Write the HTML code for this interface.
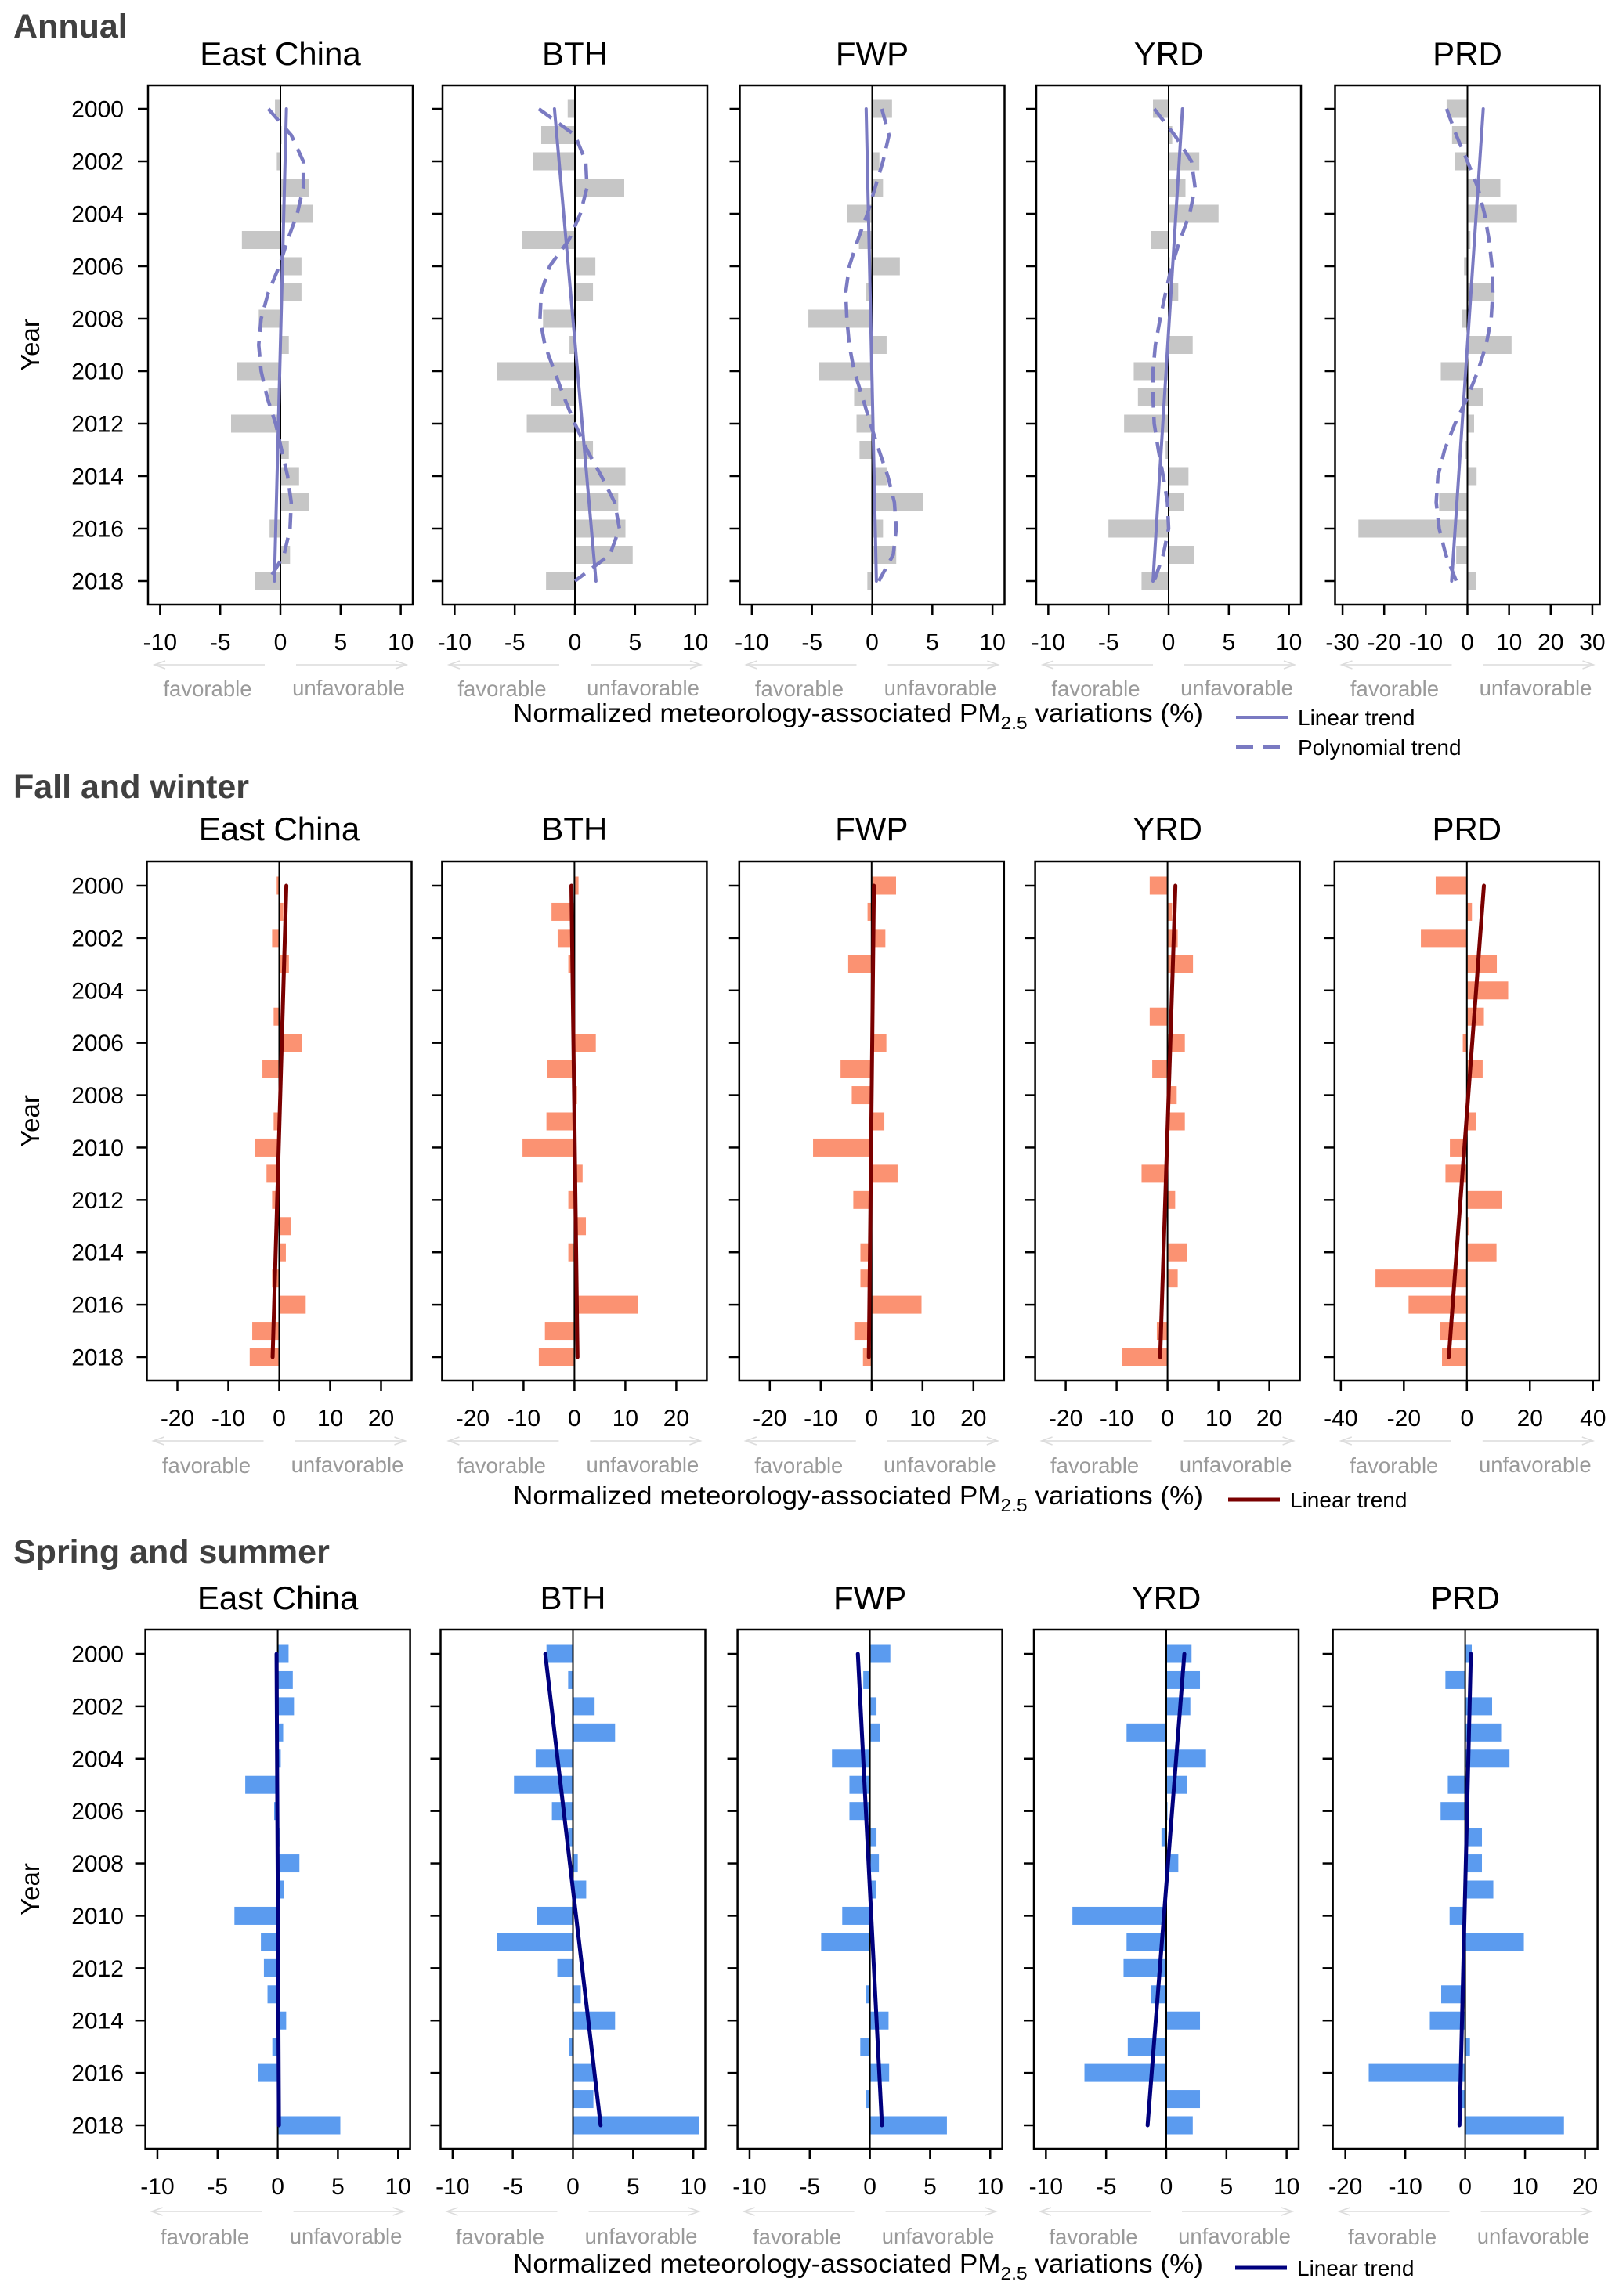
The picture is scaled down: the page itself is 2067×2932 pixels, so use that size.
<!DOCTYPE html>
<html><head><meta charset="utf-8"><style>
html,body{margin:0;padding:0;background:#fff;}
svg{display:block;font-family:"Liberation Sans",Arial,sans-serif;}
</style></head><body>
<svg id="fig" width="2067" height="2932" viewBox="0 0 2067 2932" xmlns="http://www.w3.org/2000/svg"></svg>
<script>
// ---------- data ----------
const years = [2000,2001,2002,2003,2004,2005,2006,2007,2008,2009,2010,2011,2012,2013,2014,2015,2016,2017,2018];
const yearTickLabels = ["2000","2002","2004","2006","2008","2010","2012","2014","2016","2018"];
const regions = ["East China","BTH","FWP","YRD","PRD"];
const rowTitles = ["Annual","Fall and winter","Spring and summer"];

// Annual
const annualEC  = [-0.45,0.1,-0.3,2.4,2.7,-3.2,1.75,1.75,-1.8,0.7,-3.6,-1.0,-4.1,0.7,1.55,2.4,-0.9,0.8,-2.1];
const annualBTH = [-0.6,-2.8,-3.5,4.1,0.1,-4.4,1.7,1.5,-2.65,-0.45,-6.5,-2.0,-4.0,1.5,4.2,3.6,4.2,4.8,-2.4];
const annualFWP = [1.65,0.05,0.6,0.9,-2.1,-1.1,2.3,-0.55,-5.3,1.2,-4.4,-1.5,-1.3,-1.05,1.2,4.2,0.9,2.0,-0.4];
const annualYRD = [-1.3,0.3,2.55,1.4,4.15,-1.45,0.1,0.8,0.05,2.0,-2.9,-2.55,-3.7,-0.25,1.65,1.3,-5.0,2.1,-2.25];
const annualPRD = [-5.0,-3.7,-3.0,7.9,11.9,0.7,-0.8,6.5,-1.4,10.6,-6.4,3.8,1.6,-0.5,2.2,-6.8,-26.2,-2.7,2.0];
const annualLinEC  = [0.5,-0.5];
const annualLinBTH = [-1.7,1.75];
const annualLinFWP = [-0.5,0.35];
const annualLinYRD = [1.15,-1.3];
const annualLinPRD = [3.8,-3.8];
const annualPolyEC  = [-1.0,0.9,1.9,1.9,1.4,0.6,-0.1,-1.0,-1.6,-1.8,-1.6,-1.1,-0.4,0.1,0.6,0.9,0.8,0.3,-1.0];
const annualPolyBTH = [-3.0,0.0,0.9,1.0,0.45,-0.5,-2.1,-2.8,-2.9,-2.5,-1.7,-0.9,0.0,1.0,2.2,3.3,3.7,2.9,0.0];
const annualPolyFWP = [0.8,1.4,0.9,0.25,-0.4,-1.2,-1.9,-2.2,-2.1,-1.9,-1.5,-0.8,-0.15,0.55,1.3,1.85,2.0,1.75,0.55];
const annualPolyYRD = [-1.2,0.5,1.9,2.2,1.75,0.95,0.25,-0.25,-0.7,-1.1,-1.3,-1.3,-1.2,-0.85,-0.45,-0.1,0.0,-0.45,-1.2];
const annualPolyPRD = [-5.0,-2.7,0.0,2.5,4.1,5.2,5.9,6.1,5.7,4.5,2.5,0.0,-3.0,-5.5,-7.1,-7.5,-6.8,-5.2,-2.7];

// Fall and winter
const fwEC  = [-0.5,0.8,-1.4,1.9,0.0,-1.1,4.4,-3.3,0.1,-1.1,-4.8,-2.5,-1.4,2.25,1.3,-1.4,5.2,-5.3,-5.8];
const fwBTH = [0.8,-4.5,-3.3,-1.2,0.0,0.0,4.2,-5.3,0.5,-5.5,-10.2,1.6,-1.2,2.25,-1.2,0.0,12.5,-5.8,-7.0];
const fwFWP = [4.8,-0.8,2.7,-4.6,0.0,0.0,2.9,-6.1,-3.9,2.5,-11.5,5.1,-3.6,0.0,-2.2,-2.2,9.8,-3.4,-1.7];
const fwYRD = [-3.5,0.9,2.0,5.0,0.0,-3.5,3.4,-3.0,1.8,3.4,0.0,-5.1,1.5,0.0,3.8,2.0,0.0,-2.1,-8.9];
const fwPRD = [-9.9,1.6,-14.6,9.5,13.1,5.4,-1.3,5.0,0.0,2.9,-5.4,-6.8,11.2,0.5,9.4,-29.0,-18.5,-8.5,-7.9];
const fwLinEC  = [1.4,-1.3];
const fwLinBTH = [-0.6,0.6];
const fwLinFWP = [0.45,-0.55];
const fwLinYRD = [1.55,-1.45];
const fwLinPRD = [5.4,-5.75];

// Spring and summer
const ssEC  = [0.9,1.25,1.35,0.45,0.25,-2.7,-0.3,0.15,1.8,0.5,-3.6,-1.4,-1.15,-0.85,0.7,-0.45,-1.6,0.0,5.2];
const ssBTH = [-2.2,-0.4,1.8,3.5,-3.1,-4.9,-1.75,-0.4,0.4,1.1,-3.0,-6.3,-1.3,0.65,3.5,-0.35,1.8,1.7,10.45];
const ssFWP = [1.7,-0.55,0.55,0.85,-3.15,-1.7,-1.7,0.55,0.75,0.5,-2.3,-4.05,0.0,-0.3,1.55,-0.8,1.6,-0.35,6.4];
const ssYRD = [2.1,2.8,2.0,-3.3,3.3,1.7,0.1,-0.4,1.0,0.0,-7.8,-3.3,-3.55,-1.3,2.8,-3.2,-6.8,2.8,2.2];
const ssPRD = [1.1,-3.3,4.5,6.0,7.4,-2.9,-4.1,2.8,2.8,4.7,-2.6,9.8,0.0,-4.0,-5.9,0.8,-16.1,-0.5,16.5];
const ssLinEC  = [-0.1,0.1];
const ssLinBTH = [-2.3,2.3];
const ssLinFWP = [-1.0,1.0];
const ssLinYRD = [1.5,-1.55];
const ssLinPRD = [0.95,-0.95];

// x-axis tick labels
const ticks10 = [-10,-5,0,5,10];
const ticks20 = [-20,-10,0,10,20];
const ticks30 = [-30,-20,-10,0,10,20,30];
const ticks40 = [-40,-20,0,20,40];

// ---------- layout ----------
const NS = "http://www.w3.org/2000/svg";
const svg = document.getElementById("fig");
function mk(tag, attrs, parent){
  const e = document.createElementNS(NS, tag);
  for (const k in attrs) e.setAttribute(k, attrs[k]);
  (parent||svg).appendChild(e);
  return e;
}
const rows = [
  {title:"Annual", titleY:48, boxTop:109, boxBot:772, y0:139, y18:742, lefts:[189,565,944.5,1323,1704.5],
   lim:[11,11,11,11,31.8], ticks:[ticks10,ticks10,ticks10,ticks10,ticks30],
   bars:[annualEC,annualBTH,annualFWP,annualYRD,annualPRD],
   lin:[annualLinEC,annualLinBTH,annualLinFWP,annualLinYRD,annualLinPRD],
   poly:[annualPolyEC,annualPolyBTH,annualPolyFWP,annualPolyYRD,annualPolyPRD],
   barColor:"#c6c6c6", lineColor:"#7a7ac2", lineW:4, headY:83, tickY:830, arrowY:849, favY:889, axisY:922},
  {title:"Fall and winter", titleY:1019, boxTop:1100, boxBot:1763, y0:1131, y18:1733, lefts:[187.5,564.4,943.8,1321.6,1703.8],
   lim:[26,26,26,26,42], ticks:[ticks20,ticks20,ticks20,ticks20,ticks40],
   bars:[fwEC,fwBTH,fwFWP,fwYRD,fwPRD],
   lin:[fwLinEC,fwLinBTH,fwLinFWP,fwLinYRD,fwLinPRD], poly:null,
   barColor:"#fb9272", lineColor:"#7a0000", lineW:5, headY:1073, tickY:1821, arrowY:1840, favY:1881, axisY:1921},
  {title:"Spring and summer", titleY:1996, boxTop:2081, boxBot:2744, y0:2112, y18:2714, lefts:[185.6,562.5,941.6,1320,1701.6],
   lim:[11,11,11,11,22.1], ticks:[ticks10,ticks10,ticks10,ticks10,ticks20],
   bars:[ssEC,ssBTH,ssFWP,ssYRD,ssPRD],
   lin:[ssLinEC,ssLinBTH,ssLinFWP,ssLinYRD,ssLinPRD], poly:null,
   barColor:"#5b9bef", lineColor:"#00007e", lineW:5, headY:2055, tickY:2802, arrowY:2824, favY:2866, axisY:2902}
];
const W = 338;
const keys = ["east-china","bth","fwp","yrd","prd"];
const rowKeys = ["annual","fall-winter","spring-summer"];

rows.forEach((r, ri) => {
  const rk = rowKeys[ri];
  const rt = mk("text", {x:17, y:r.titleY, "font-size":43, "font-weight":"bold", fill:"#404040"});
  rt.textContent = r.title;
  
  

  const yl = mk("text", {x:0, y:0, "font-size":33, fill:"#000", "text-anchor":"middle",
    transform:"translate(50," + ((r.boxTop + r.boxBot)/2) + ") rotate(-90)"});
  yl.textContent = "Year";
  
  

  const yOf = (yr) => r.y0 + (yr - 2000) * (r.y18 - r.y0) / 18;

  for (let p = 0; p < 5; p++) {
    const L = r.lefts[p], R = L + W, lim = r.lim[p];
    const xOf = (v) => L + (v + lim) / (2 * lim) * W;
    const g = mk("g", {});
    
    

    const ht = mk("text", {x:(L+R)/2, y:r.headY, "font-size":42, "text-anchor":"middle", fill:"#000"}, g);
    ht.textContent = regions[p];
    
    

    // bars
    const vals = r.bars[p];
    vals.forEach((v, i) => {
      const y = yOf(years[i]);
      const x0 = xOf(0), x1 = xOf(v);
      const b = mk("rect", {x:Math.min(x0,x1), y:y-11.5, width:Math.abs(x1-x0), height:23, fill:r.barColor}, g);
      
      
    });

    // zero line
    const zl = mk("line", {x1:xOf(0), x2:xOf(0), y1:r.boxTop, y2:r.boxBot, stroke:"#000", "stroke-width":2}, g);
    
    

    // polynomial trend
    if (r.poly) {
      const pv = r.poly[p];
      let d = "";
      pv.forEach((v, i) => { d += (i ? " L" : "M") + xOf(v).toFixed(1) + "," + yOf(years[i]).toFixed(1); });
      const pl = mk("path", {d:d, fill:"none", stroke:r.lineColor, "stroke-width":4.5, "stroke-dasharray":"20 12", "stroke-linejoin":"round"}, g);
      
      
    }
    // linear trend
    const lv = r.lin[p];
    const ll = mk("line", {x1:xOf(lv[0]), y1:yOf(2000), x2:xOf(lv[1]), y2:yOf(2018), stroke:r.lineColor, "stroke-width":r.lineW, "stroke-linecap":"round"}, g);
    
    

    // box
    const bx = mk("rect", {x:L, y:r.boxTop, width:W, height:r.boxBot-r.boxTop, fill:"none", stroke:"#000", "stroke-width":2.5}, g);
    
    

    // y ticks
    yearTickLabels.forEach((lab) => {
      const y = yOf(+lab);
      const t = mk("line", {x1:L-13, x2:L, y1:y, y2:y, stroke:"#000", "stroke-width":2.5}, g);
      
      
      if (p === 0) {
        const tl = mk("text", {x:158, y:y+10.5, "font-size":30, "text-anchor":"end", fill:"#000"}, g);
        tl.textContent = lab;
        
        
      }
    });
    // x ticks
    r.ticks[p].forEach((v) => {
      const x = xOf(v);
      const t = mk("line", {x1:x, x2:x, y1:r.boxBot, y2:r.boxBot+13, stroke:"#000", "stroke-width":2.5}, g);
      
      
      const tl = mk("text", {x:x, y:r.tickY, "font-size":30, "text-anchor":"middle", fill:"#000"}, g);
      tl.textContent = String(v);
      
      
    });
    // arrows
    const cx = (L+R)/2;
    const a1 = mk("path", {d:"M"+(cx-20)+","+r.arrowY+" L"+(L+8)+","+r.arrowY+" M"+(L+22)+","+(r.arrowY-5)+" L"+(L+8)+","+r.arrowY+" L"+(L+22)+","+(r.arrowY+5), fill:"none", stroke:"#dcdcdc", "stroke-width":1.5}, g);
    
    
    const a2 = mk("path", {d:"M"+(cx+20)+","+r.arrowY+" L"+(R-8)+","+r.arrowY+" M"+(R-22)+","+(r.arrowY-5)+" L"+(R-8)+","+r.arrowY+" L"+(R-22)+","+(r.arrowY+5), fill:"none", stroke:"#dcdcdc", "stroke-width":1.5}, g);
    
    
    const f1 = mk("text", {x:cx-93, y:r.favY, "font-size":27.5, "text-anchor":"middle", fill:"#9a9a9a"}, g);
    f1.textContent = "favorable";
    
    
    const f2 = mk("text", {x:cx+87, y:r.favY-1, "font-size":27.5, "text-anchor":"middle", fill:"#9a9a9a"}, g);
    f2.textContent = "unfavorable";
    
    
  }

  // axis title
  const at = mk("text", {x:655, y:r.axisY, "font-size":33, fill:"#000", textLength:881, lengthAdjust:"spacingAndGlyphs"});
  at.innerHTML = 'Normalized meteorology-associated PM<tspan font-size="23" dy="9">2.5</tspan><tspan dy="-9"> variations (%)</tspan>';
  
  

  // legend
  const lg = mk("g", {});
  
  
  const ly = ri === 0 ? 916 : r.axisY - 6;
  const lx1 = ri === 0 ? 1578 : (ri === 1 ? 1568 : 1577);
  const le = mk("line", {x1:lx1, x2:lx1+66, y1:ly, y2:ly, stroke:r.lineColor, "stroke-width":r.lineW}, lg);
  
  
  const lt = mk("text", {x:lx1+79, y:ly+10, "font-size":28, fill:"#000"}, lg);
  lt.textContent = "Linear trend";
  
  
  if (ri === 0) {
    const pe = mk("line", {x1:lx1, x2:lx1+66, y1:954, y2:954, stroke:r.lineColor, "stroke-width":4.5, "stroke-dasharray":"22 12"}, lg);
    
    
    const pt = mk("text", {x:lx1+79, y:964, "font-size":28, fill:"#000"}, lg);
    pt.textContent = "Polynomial trend";
    
    
  }
});
</script>
</body></html>
